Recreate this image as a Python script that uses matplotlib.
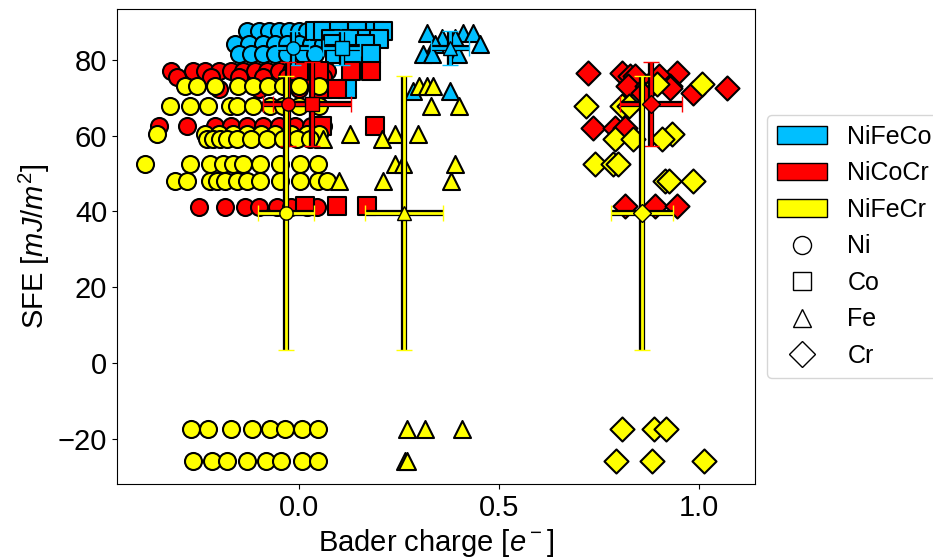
import matplotlib
matplotlib.use("Agg")
import matplotlib.pyplot as plt
import matplotlib.patheffects as pe
from matplotlib.patches import Patch
from matplotlib.lines import Line2D

plt.rcParams['font.family'] = ['Liberation Sans', 'DejaVu Sans']
plt.rcParams['mathtext.fontset'] = 'custom'
plt.rcParams['mathtext.rm'] = 'Liberation Sans'
plt.rcParams['mathtext.it'] = 'Liberation Sans:italic'

# --- data: each series is a list of (SFE, [Bader charges of the atoms]) ---
alloys = ['NiFeCo', 'NiCoCr', 'NiFeCr']
alloy_colors = ['deepskyblue', 'red', 'yellow']
elements = ['Ni', 'Co', 'Fe', 'Cr']
elem_markers = ['o', 's', '^', 'D']

nifeco_ni = [(87.6, [-0.13, -0.10, -0.075, -0.05, -0.025, 0.0, 0.02, 0.045, 0.065]),
             (84.3, [-0.16, -0.125, -0.09, -0.06, -0.03, 0.0, 0.03, 0.06]),
             (81.7, [-0.15, -0.12, -0.09, -0.06, -0.03, 0.01, 0.04])]
nifeco_co = [(87.6, [0.04, 0.06, 0.10, 0.145, 0.19, 0.21]),
             (85.5, [0.08, 0.13, 0.17, 0.20]),
             (84.2, [0.085, 0.165]),
             (81.5, [0.09, 0.135, 0.18]),
             (72.4, [0.12])]
nifeco_fe = [(87.1, [0.32, 0.41, 0.435]),
             (85.8, [0.357, 0.39]),
             (84.2, [0.34, 0.4525]),
             (81.6, [0.31, 0.333, 0.3975]),
             (71.8, [0.285, 0.378])]

nicocr_ni = [(77.1, [-0.32, -0.265, -0.235, -0.20, -0.17, -0.14, -0.11, -0.08, -0.05, -0.02, 0.01, 0.04, 0.07]),
             (75.5, [-0.305, -0.22, -0.15, -0.09, -0.03, 0.02, 0.06]),
             (72.3, [-0.20, -0.10, 0.0, 0.05]),
             (62.6, [-0.35, -0.28, -0.21, -0.17, -0.13, -0.09, -0.05, -0.01, 0.03, 0.06]),
             (41.3, [-0.25, -0.185, -0.135, -0.10, -0.055, -0.02, 0.02, 0.045])]
nicocr_co = [(77.1, [0.0, 0.05, 0.13, 0.18]),
             (72.3, [0.06, 0.095]),
             (62.6, [0.0575, 0.19]),
             (41.5, [0.015, 0.095, 0.17])]
nicocr_cr = [(76.5, [0.7225, 0.8075, 0.945]),
             (75.8, [0.8275, 0.84, 0.90]),
             (73.2, [0.8225, 0.87, 0.9275]),
             (72.6, [0.9275, 1.07]),
             (71.3, [0.86, 0.985]),
             (62.1, [0.735, 0.79, 0.815]),
             (41.5, [0.815, 0.89, 0.945])]

nifecr_ni = [(73.1, [-0.285, -0.255, -0.21, -0.153, -0.115, -0.078, -0.04, 0.0, 0.05]),
             (67.8, [-0.3225, -0.2725, -0.2275, -0.1725, -0.155, -0.115, -0.0725, -0.04, 0.0, 0.05]),
             (60.4, [-0.355, -0.235, -0.20, -0.165, -0.13, -0.095, -0.06, -0.02, 0.02, 0.05]),
             (59.1, [-0.23, -0.215, -0.197, -0.18, -0.155, -0.12, -0.08, -0.04, -0.005, 0.0275]),
             (52.5, [-0.385, -0.2725, -0.2225, -0.19, -0.165, -0.14, -0.0975, -0.0475, 0.0025, 0.0475]),
             (48.0, [-0.31, -0.28, -0.2225, -0.205, -0.185, -0.155, -0.13, -0.0975, -0.0475, 0.0025, 0.0475, 0.07]),
             (-17.5, [-0.27, -0.2275, -0.17, -0.1175, -0.0725, -0.035, 0.0075, 0.0475]),
             (-26.0, [-0.265, -0.2175, -0.18, -0.13, -0.0825, -0.045, 0.0075, 0.0475])]
nifecr_fe = [(73.1, [0.30, 0.32, 0.335]),
             (67.8, [0.33, 0.40]),
             (60.4, [0.1275, 0.24, 0.2975]),
             (59.1, [0.06, 0.2075]),
             (52.5, [0.24, 0.26, 0.39]),
             (48.0, [0.10, 0.21, 0.38]),
             (-17.5, [0.27, 0.315, 0.4075]),
             (-26.0, [0.265, 0.27])]
nifecr_cr = [(73.6, [0.895, 1.0075]),
             (67.9, [0.7175, 0.8075, 0.825]),
             (60.4, [0.9325]),
             (59.1, [0.79, 0.835, 0.9075]),
             (52.5, [0.74, 0.785, 0.7975]),
             (48.0, [0.915, 0.925, 0.985]),
             (-17.5, [0.8075, 0.8875, 0.9175]),
             (-26.0, [0.7925, 0.8825, 1.0125])]

series = [('NiFeCo', 'Ni', nifeco_ni), ('NiFeCo', 'Co', nifeco_co), ('NiFeCo', 'Fe', nifeco_fe),
          ('NiCoCr', 'Ni', nicocr_ni), ('NiCoCr', 'Co', nicocr_co), ('NiCoCr', 'Cr', nicocr_cr),
          ('NiFeCr', 'Ni', nifecr_ni), ('NiFeCr', 'Fe', nifecr_fe), ('NiFeCr', 'Cr', nifecr_cr)]

# mean charge / mean SFE with standard deviations
mean_alloy = ['NiFeCo'] * 3 + ['NiCoCr'] * 3 + ['NiFeCr'] * 3
mean_elem = ['Ni', 'Co', 'Fe', 'Ni', 'Co', 'Cr', 'Ni', 'Fe', 'Cr']
mean_charge = [-0.015, 0.107, 0.378, -0.027, 0.032, 0.88, -0.033, 0.2625, 0.8575]
mean_charge_err = [0.04, 0.046, 0.047, 0.062, 0.0975, 0.078, 0.07, 0.0975, 0.078]
mean_sfe = [83.1] * 3 + [68.4] * 3 + [39.7] * 3
mean_sfe_err = [4.5] * 3 + [11.0] * 3 + [36.2] * 3

color_of = dict(zip(alloys, alloy_colors))
marker_of = dict(zip(elements, elem_markers))

fig = plt.figure(figsize=(9.33, 5.6), dpi=100)
ax = fig.add_axes([0.1254, 0.1357, 0.6836, 0.8483])

for alloy, elem, rows in series:
    xs = [q for sfe, qs in rows for q in qs]
    ys = [sfe for sfe, qs in rows for q in qs]
    ax.scatter(xs, ys, s=150, marker=marker_of[elem], c=color_of[alloy],
               edgecolors='black', linewidths=1.5, zorder=2)

for i in range(len(mean_charge)):
    c = color_of[mean_alloy[i]]
    eb = ax.errorbar(mean_charge[i], mean_sfe[i], xerr=mean_charge_err[i], yerr=mean_sfe_err[i],
                     fmt=marker_of[mean_elem[i]], color=c, mec='black', mew=1.0, ms=9.5,
                     ecolor=c, elinewidth=2, capsize=6, capthick=2, zorder=4)
    for lc in eb[2]:
        lc.set_path_effects([pe.Stroke(linewidth=4.5, foreground='black'), pe.Normal()])

ax.set_xlim(-0.455, 1.14)
ax.set_ylim(-32, 93.5)
ax.set_xticks([0.0, 0.5, 1.0])
ax.set_yticks([-20, 0, 20, 40, 60, 80])
ax.tick_params(labelsize=21)
ax.set_xlabel('Bader charge [$e^-$]', fontsize=21)
ax.set_ylabel('SFE [$mJ/m^2$]', fontsize=21)

handles = [Patch(facecolor=c, edgecolor='black', label=a) for a, c in zip(alloys, alloy_colors)]
handles += [Line2D([], [], ls='none', marker=m, mfc='white', mec='black', ms=13, label=e)
            for e, m in zip(elements, elem_markers)]
ax.legend(handles=handles, loc='center left', bbox_to_anchor=(1.0, 0.5), fontsize=18)

fig.savefig('out.png', dpi=100)
